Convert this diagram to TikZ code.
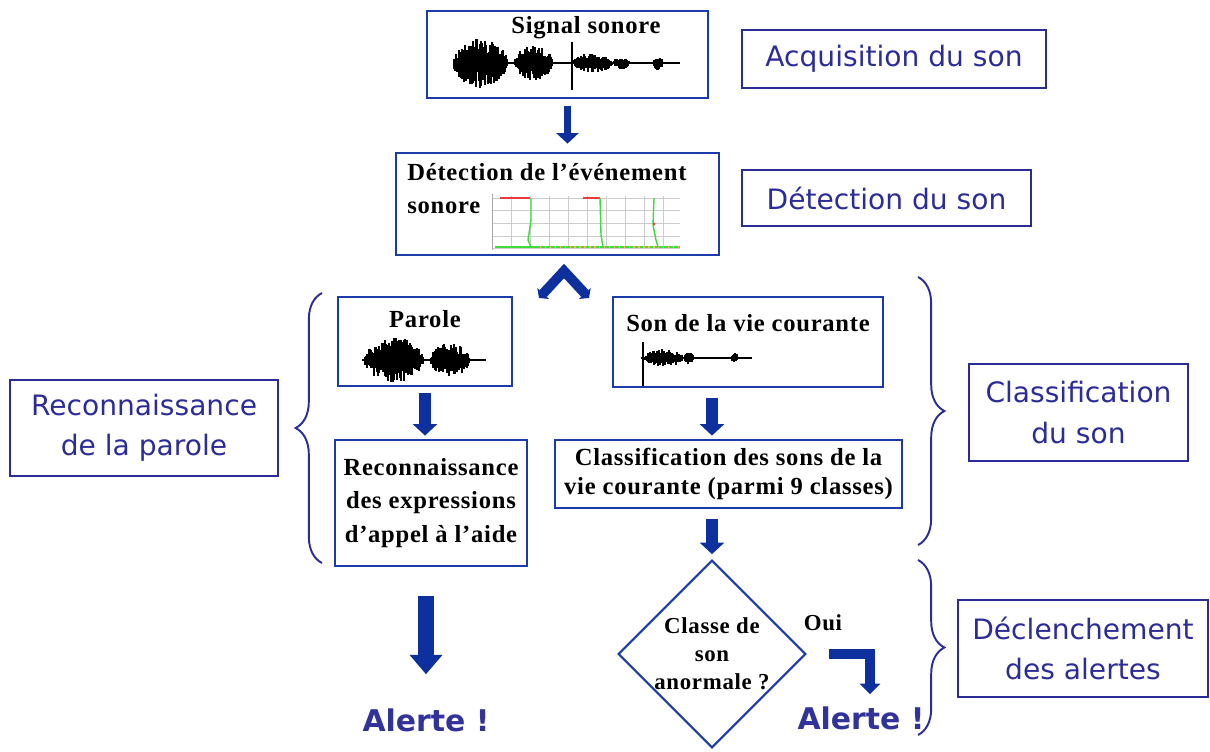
\documentclass[tikz,border=0pt]{standalone}
\usepackage{fontspec}
\setmainfont{Liberation Serif}[LetterSpace=3]
\newfontfamily\tagfont{DejaVu Sans}
\usepackage{tikz}
\usetikzlibrary{shapes.geometric, arrows.meta, positioning, decorations.pathreplacing}

\definecolor{boxblue}{RGB}{28,58,168}
\definecolor{arrowblue}{RGB}{14,48,158}
\definecolor{tagblue}{RGB}{44,44,152}
\definecolor{alertblue}{RGB}{50,50,155}
\definecolor{chartred}{RGB}{230,60,60}
\definecolor{chartgreen}{RGB}{60,220,60}

\newcommand{\soundblob}[5]{%
  \foreach \k in {0,...,#5}{%
    \pgfmathsetmacro{\bx}{#1+(#2-#1)*\k/#5}%
    \pgfmathsetmacro{\bu}{#4*(0.35+0.65*rnd)*sqrt(sin(180*\k/#5))}%
    \pgfmathsetmacro{\bd}{#4*(0.35+0.65*rnd)*sqrt(sin(180*\k/#5))}%
    \draw[wavestroke] (\bx,#3-\bu) -- (\bx,#3+\bd);
  }}

\begin{document}
\begin{tikzpicture}[x=0.02cm, y=-0.02cm,
    procbox/.style={rectangle, draw=boxblue, line width=1.6pt, fill=white},
    boxtext/.style={font=\bfseries\fontsize{14}{19}\selectfont, align=center, inner sep=0pt},
    tagbox/.style={rectangle, draw=tagblue, line width=1.2pt, text=tagblue, align=center, font=\tagfont\fontsize{16}{23}\selectfont},
    decision/.style={diamond, draw=boxblue, line width=1.2pt, aspect=1, inner sep=0pt, align=center, font=\bfseries\fontsize{13}{16}\selectfont},
    alertText/.style={text=alertblue, font=\tagfont\bfseries\fontsize{17}{20}\selectfont},
    blockarrow/.style={draw=arrowblue, line width=7.2pt, -{Triangle[width=13.5pt,length=6.5pt]}},
    bigarrow/.style={draw=arrowblue, line width=9pt, -{Triangle[width=18pt,length=11pt]}},
    forkarrow/.style={draw=arrowblue, line width=5.6pt, line join=miter, {Triangle[width=9pt,length=3.5pt]}-{Triangle[width=9pt,length=3.5pt]}},
    groupbrace/.style={draw=tagblue, line width=1.1pt, decorate, decoration={brace, amplitude=15pt}},
    wavestroke/.style={black, line width=0.65pt},
    gridline/.style={gray!40, line width=0.4pt}
]
\useasboundingbox (0,0) rectangle (1210,751);
\pgfmathsetseed{12}

\node[procbox, minimum width=5.62cm, minimum height=1.74cm] (sig) at (567.5,54.5) {};
\node[boxtext] (sigtitle) at (586,28) {Signal sonore};
\draw[wavestroke] (453,63) -- (680,63);
\soundblob{453}{508}{63}{25}{55}
\soundblob{514}{553}{63}{18}{39}
\draw[wavestroke, line width=1pt] (572,42) -- (572,90);
\soundblob{573}{613}{63}{10}{40}
\soundblob{613}{630}{63}{6}{17}
\soundblob{653}{663}{63}{8}{10}

\node[procbox, minimum width=6.46cm, minimum height=2.04cm] (det) at (557.5,204) {};
\node[boxtext, align=left, anchor=north west] (dettitle) at (407,163) {Détection de l’événement\\sonore};
\foreach \gx in {492,511,...,680} \draw[gridline] (\gx,196) -- (\gx,248);
\foreach \gy in {198,210,223,236,248} \draw[gridline] (492,\gy) -- (680,\gy);
\draw[gray!70, line width=0.5pt] (492,194) -- (492,250);
\draw[chartred, line width=0.9pt] (500,198) -- (530,198);
\draw[chartred, line width=0.9pt] (583,198) -- (600,198);
\draw[chartgreen, line width=0.8pt] (495,247) -- (680,247);
\draw[orange!60, line width=0.8pt, dotted] (540,247) -- (680,247);
\draw[chartgreen, line width=0.8pt] (531,198) -- (531,220) -- (528,240) -- (531,247);
\draw[chartgreen, line width=0.8pt] (600,198) -- (601,235) -- (603,247);
\draw[chartgreen, line width=0.8pt] (654,198) -- (653,225) -- (656,240) -- (658,247);
\fill[chartred] (654,224) circle (1.5);

\node[procbox, minimum width=3.48cm, minimum height=1.78cm] (parole) at (425,341.5) {};
\node[boxtext, below=0.28cm of parole.north] (paroletitle) {Parole};
\draw[wavestroke] (362,360) -- (486,360);
\soundblob{364}{424}{360}{23}{60}
\soundblob{430}{470}{360}{17}{40}

\node[procbox, minimum width=5.4cm, minimum height=1.8cm] (vie) at (748,342) {};
\node[boxtext, below=0.36cm of vie.north] (vietitle) {Son de la vie courante};
\draw[wavestroke] (641,358) -- (752,358);
\draw[wavestroke, line width=1pt] (643,342) -- (643,386);
\soundblob{644}{684}{358}{9}{40}
\soundblob{684}{694}{358}{6}{10}
\soundblob{731}{739}{358}{5}{8}

\node[procbox, minimum width=3.84cm, minimum height=2.52cm, align=center, font=\bfseries\fontsize{14}{19}\selectfont] (reco) at (431,503) {Reconnaissance\\des expressions\\d’appel à l’aide};
\node[procbox, minimum width=6.94cm, minimum height=1.36cm, align=center, font=\bfseries\fontsize{14}{17}\selectfont] (classif) at (728.5,474) {Classification des sons de la\\vie courante (parmi 9 classes)};
\node[decision, minimum width=3.62cm, minimum height=3.64cm] (dia) at (712,654) {Classe de\\son\\anormale ?};
\node[font=\bfseries\fontsize{13}{16}\selectfont] (oui) at (823,623) {Oui};

\node[alertText] (alertL) at (426,720) {Alerte !};
\node[alertText] (alertR) at (861,718) {Alerte !};

\node[tagbox, minimum width=6.08cm, minimum height=1.16cm] (acq) at (894,59) {Acquisition du son};
\node[tagbox, minimum width=5.78cm, minimum height=1.12cm] (detson) at (886.5,198) {Détection du son};
\node[tagbox, minimum width=5.36cm, minimum height=1.92cm] (recop) at (144,428) {Reconnaissance\\de la parole};
\node[tagbox, minimum width=4.38cm, minimum height=1.94cm] (classson) at (1078.5,412.5) {Classification\\du son};
\node[tagbox, minimum width=5.0cm, minimum height=1.94cm] (decl) at (1083,648.5) {Déclenchement\\des alertes};

\coordinate (forkTop) at (564,271);
\coordinate (forkL) at (539,298);
\coordinate (forkR) at (589,298);

\draw[blockarrow, line width=4.5pt, -{Triangle[width=12.5pt,length=6pt]}, shorten <=0.14cm, shorten >=0.16cm] (sig.south) -- (sig.south |- det.north);
\draw[forkarrow] (forkL) -- (forkTop) -- (forkR);
\draw[blockarrow, shorten <=0.12cm, shorten >=0.06cm] (parole.south) -- (parole.south |- reco.north);
\draw[blockarrow, shorten <=0.2cm, shorten >=0.06cm] (dia.north |- vie.south) -- (dia.north |- classif.north);
\draw[blockarrow, shorten <=0.2cm, shorten >=0.1cm] (dia.north |- classif.south) -- (dia.north);
\draw[bigarrow, shorten <=0.58cm, shorten >=0.56cm] (alertL.north |- reco.south) -- (alertL.north);
\draw[blockarrow, line width=5.2pt, line join=miter, -{Triangle[width=11.5pt,length=6pt]}, shorten <=0.44cm, shorten >=0.12cm] (dia.east) -| ([xshift=0.18cm]alertR.north);

\coordinate (bLtop) at (322,293);
\coordinate (bLbot) at (322,563);
\coordinate (bCtop) at (918,277);
\coordinate (bCbot) at (918,545);
\coordinate (bDtop) at (918,560);
\coordinate (bDbot) at (918,735);
\draw[groupbrace] (bLbot) -- (bLtop);
\draw[groupbrace] (bCtop) -- (bCbot);
\draw[groupbrace] (bDtop) -- (bDbot);

\end{tikzpicture}
\end{document}
